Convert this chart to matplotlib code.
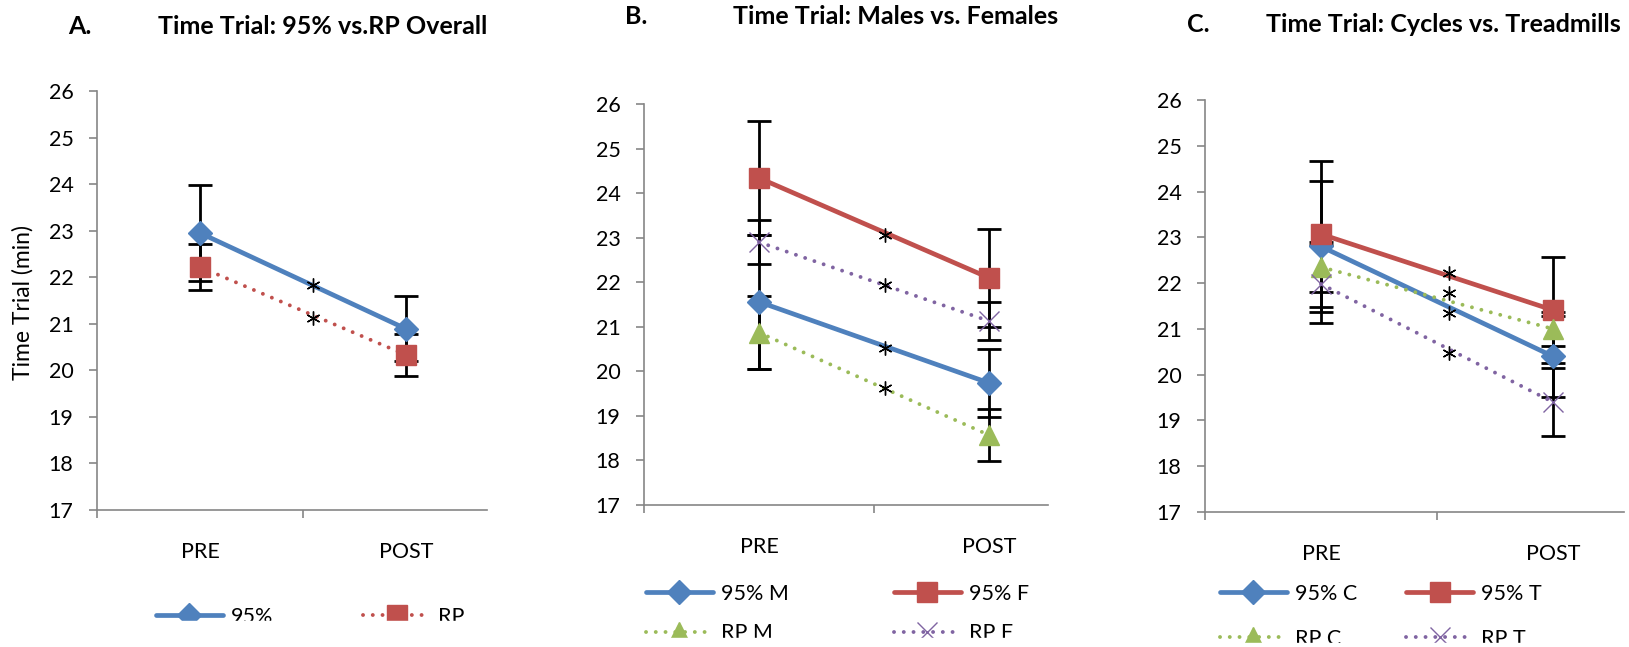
import matplotlib
matplotlib.use("Agg")
import matplotlib.pyplot as plt
from matplotlib.patches import Rectangle

plt.rcParams['font.family'] = ['Lato', 'DejaVu Sans']

W, H = 1629, 647

# categorias
phases = ["PRE", "POST"]

# A. 95% vs RP overall
a_95 = [22.95, 20.89]
a_95_err = [1.03, 0.70]
a_rp = [22.22, 20.33]
a_rp_err = [0.49, 0.45]
a_sig_y = [21.84, 21.13]

# B. males vs females
b_95m = [21.56, 19.74]
b_95m_err = [1.50, 0.76]
b_95f = [24.34, 22.10]
b_95f_err = [1.28, 1.10]
b_rpm = [20.87, 18.57]
b_rpm_err = [0.82, 0.58]
b_rpf = [22.90, 21.13]
b_rpf_err = [0.50, 0.42]
b_sig_y = [23.06, 21.94, 20.53, 19.63]

# C. cycles vs treadmills
c_95c = [22.80, 20.40]
c_95c_err = [1.43, 0.88]
c_95t = [23.07, 21.41]
c_95t_err = [1.60, 1.16]
c_rpc = [22.35, 21.00]
c_rpc_err = [0.55, 0.37]
c_rpt = [21.98, 19.40]
c_rpt_err = [0.85, 0.74]
c_sig_y = [22.22, 21.79, 21.35, 20.48]

yticks = [17, 18, 19, 20, 21, 22, 23, 24, 25, 26]

BLUE = '#4F81BD'
RED = '#C0504D'
GREEN = '#9BBB59'
PURPLE = '#8064A2'
AXC = '#868686'

FS = 15.5

solid = dict(lw=3.4, solid_capstyle='round')
dotted = dict(lw=2.8, linestyle=(0, (0.01, 2.5)), dash_capstyle='round')

styles = {
    '95': dict(color=BLUE, marker='D', ms=12, **solid),
    '95F': dict(color=RED, marker='s', ms=14, **solid),
    'RP': dict(color=RED, marker='s', ms=14, **dotted),
    'RPM': dict(color=GREEN, marker='^', ms=14, **dotted),
    'RPF': dict(color=PURPLE, marker='x', ms=14, mew=1.0, **dotted),
}


def make_ax(left, right, top, bottom, xmax):
    ax = fig.add_axes([left / W, 1 - bottom / H, (right - left) / W, (bottom - top) / H])
    ax.set_xlim(-0.5, xmax)
    ax.set_ylim(17, 26)
    for s in ['top', 'right']:
        ax.spines[s].set_visible(False)
    for s in ['left', 'bottom']:
        ax.spines[s].set_color(AXC)
        ax.spines[s].set_linewidth(1.2)
    ax.set_yticks(yticks)
    ax.tick_params(axis='y', length=6, width=1.2, color=AXC, labelsize=FS, pad=11)
    ax.set_xticks([-0.5, 0.5])
    ax.set_xticklabels(['', ''])
    ax.tick_params(axis='x', which='major', length=6, width=1.2, color=AXC)
    ax.set_xticks([0, 1], minor=True)
    ax.set_xticklabels(phases, minor=True)
    ax.tick_params(axis='x', which='minor', length=0, labelsize=FS, pad=23)
    return ax


def series(ax, y, err, st, label):
    x = list(range(len(phases)))
    ax.errorbar(x, y, yerr=err, fmt='none', ecolor='black', elinewidth=2,
                capsize=8.5, capthick=2, zorder=2)
    line, = ax.plot(x, y, mec=st['color'], mfc=st['color'], label=label, zorder=3,
                    clip_on=False, **st)
    return line


def stars(ax, ys):
    ax.plot([0.55] * len(ys), ys, linestyle='none', marker=(6, 2, 0), ms=10,
            mew=1.0, color='black', zorder=4)


def legend(ax, handles, x, y, colsp, labsp=0.9):
    ax.legend(handles=handles, ncol=2, loc='upper left', frameon=False,
              bbox_to_anchor=(x / W, 1 - y / H), bbox_transform=fig.transFigure,
              borderpad=0, borderaxespad=0, fontsize=FS, handlelength=3.1,
              handletextpad=0.37, columnspacing=colsp, labelspacing=labsp)


def title(x_lab, x_txt, y, lab, txt):
    fig.text(x_lab / W, 1 - y / H, lab, fontsize=18, fontweight='bold', va='center')
    fig.text(x_txt / W, 1 - y / H, txt, fontsize=18, fontweight='bold', va='center')


fig = plt.figure(figsize=(W / 100, H / 100), dpi=100)

# ---- A ----
axA = make_ax(97, 487, 91, 510, 1.393)
hA1 = series(axA, a_95, a_95_err, styles['95'], '95%')
hA2 = series(axA, a_rp, a_rp_err, styles['RP'], 'RP')
stars(axA, a_sig_y)
legend(axA, [hA1, hA2], 156, 607, 4.2)
fig.text(23 / W, 1 - 302 / H, 'Time Trial (min)', rotation=90, ha='center',
         va='center', fontsize=16.5)
title(68, 158, 26, 'A.', 'Time Trial: 95% vs.RP Overall')

# ---- B ----
axB = make_ax(644, 1048, 104, 505, 1.257)
hB1 = series(axB, b_95m, b_95m_err, styles['95'], '95% M')
hB2 = series(axB, b_95f, b_95f_err, styles['95F'], '95% F')
hB3 = series(axB, b_rpm, b_rpm_err, styles['RPM'], 'RP M')
hB4 = series(axB, b_rpf, b_rpf_err, styles['RPF'], 'RP F')
stars(axB, b_sig_y)
legend(axB, [hB1, hB3, hB2, hB4], 646, 584, 4.9)
title(625, 733, 16, 'B.', 'Time Trial: Males vs. Females')

# ---- C ----
axC = make_ax(1205, 1624, 100, 512, 1.306)
hC1 = series(axC, c_95c, c_95c_err, styles['95'], '95% C')
hC2 = series(axC, c_95t, c_95t_err, styles['95F'], '95% T')
hC3 = series(axC, c_rpc, c_rpc_err, styles['RPM'], 'RP C')
hC4 = series(axC, c_rpt, c_rpt_err, styles['RPF'], 'RP T')
stars(axC, c_sig_y)
legend(axC, [hC1, hC3, hC2, hC4], 1220, 584, 2.3, 1.15)
title(1187, 1266, 24, 'C.', 'Time Trial: Cycles vs. Treadmills')

# the source picture is cut off under the legends
for x0, x1, ycut in [(0, 560, 621), (560, 1100, 638), (1100, W, 643)]:
    fig.patches.append(Rectangle((x0 / W, 0), (x1 - x0) / W, (H - ycut) / H,
                                 transform=fig.transFigure, color='white',
                                 zorder=10))

fig.savefig('out.png', dpi=100)
